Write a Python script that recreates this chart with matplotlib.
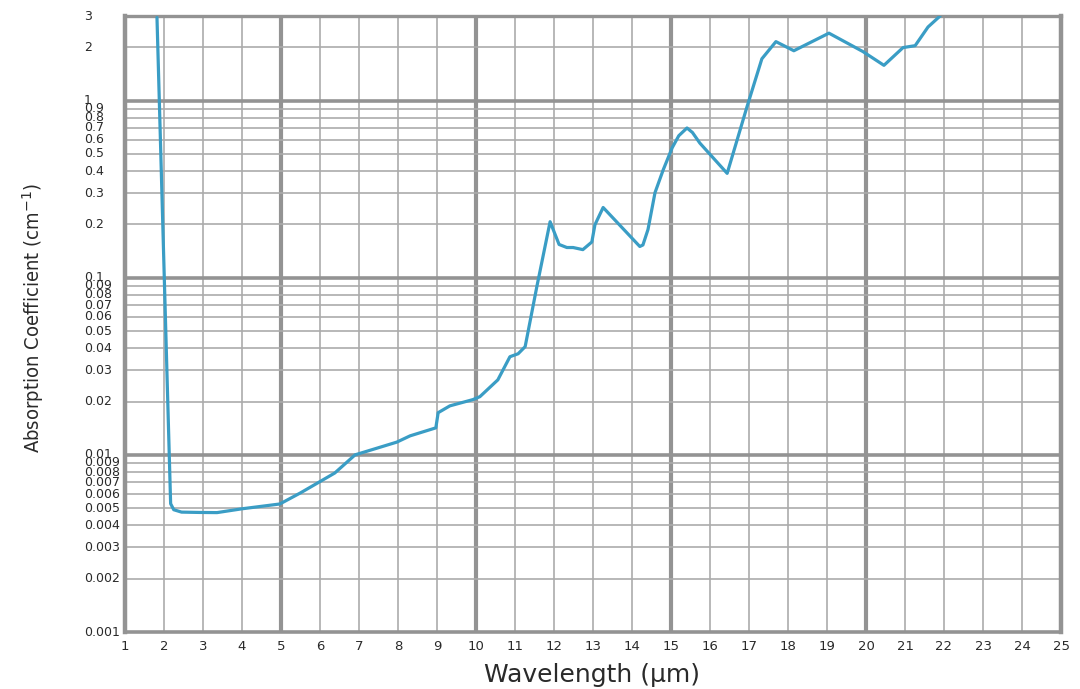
import matplotlib
matplotlib.use("Agg")
import matplotlib.pyplot as plt
from matplotlib import transforms

# Absorption spectrum (wavelength in micrometres, coefficient in cm^-1)
wavelength = [1.82, 2.17, 2.25, 2.45, 2.9, 3.36, 4.0, 4.97, 5.5, 6.38, 6.9,
              7.97, 8.31, 8.97, 9.03, 9.33, 9.92, 10.1, 10.56, 10.87, 11.08,
              11.26, 11.33, 11.56, 11.9, 12.13, 12.33, 12.49, 12.74, 12.97,
              13.05, 13.26, 14.2, 14.28, 14.41, 14.59, 14.8, 15.03, 15.2,
              15.41, 15.55, 15.74, 16.44, 16.95, 17.33, 17.69, 18.15, 19.05,
              19.92, 20.46, 20.95, 21.26, 21.59, 21.9]
absorption = [2.94, 0.0053, 0.0049, 0.00475, 0.00473, 0.00472, 0.00496,
              0.00528, 0.0061, 0.0079, 0.0100, 0.0118, 0.0128, 0.0142, 0.0173,
              0.0189, 0.0205, 0.0213, 0.0265, 0.0358, 0.0372, 0.0408, 0.0489,
              0.089, 0.207, 0.154, 0.148, 0.148, 0.144, 0.159, 0.199, 0.249,
              0.150, 0.153, 0.187, 0.302, 0.406, 0.541, 0.633, 0.70, 0.66,
              0.575, 0.388, 0.924, 1.72, 2.15, 1.91, 2.40, 1.89, 1.58, 1.99,
              2.04, 2.60, 3.0]

x_ticks = list(range(1, 26))
x_major = [5, 10, 15, 20]
y_labels = ["0.001", "0.002", "0.003", "0.004", "0.005", "0.006", "0.007",
            "0.008", "0.009", "0.01", "0.02", "0.03", "0.04", "0.05", "0.06",
            "0.07", "0.08", "0.09", "0.1", "0.2", "0.3", "0.4", "0.5", "0.6",
            "0.7", "0.8", "0.9", "1", "2", "3"]
y_major = [0.01, 0.1, 1]

THIN = "#ababab"
THICK = "#939393"
LINE = "#3a9dc5"
TEXT = "#2a2a2a"

fig = plt.figure(figsize=(10.8, 6.89), dpi=100)
ax = fig.add_axes([125 / 1080, 1 - 632 / 689, (1061 - 125) / 1080, (632 - 16) / 689])
ax.set_yscale("log")
ax.set_xlim(1, 25)
ax.set_ylim(0.001, 3)

# grid: thin lines at every unit / minor decade step, heavy lines at major ones
for xv in x_ticks[1:-1]:
    if xv in x_major:
        ax.axvline(xv, color=THICK, lw=3.0, zorder=1)
    else:
        ax.axvline(xv, color=THIN, lw=1.2, zorder=1)
for lab in y_labels[1:-1]:
    yv = float(lab)
    if yv in y_major:
        ax.axhline(yv, color=THICK, lw=2.6, zorder=1)
    else:
        ax.axhline(yv, color=THIN, lw=1.2, zorder=1)

for side, w in (("left", 3.2), ("right", 3.2), ("bottom", 2.6), ("top", 2.4)):
    ax.spines[side].set_color(THICK)
    ax.spines[side].set_linewidth(w)

ax.plot(wavelength, absorption, color=LINE, lw=2.3, zorder=3,
        solid_joinstyle="round", solid_capstyle="round")

ax.set_xticks(x_ticks)
ax.set_xticklabels([str(v) for v in x_ticks], fontsize=9.5, color=TEXT,
                   family="DejaVu Sans")
ax.tick_params(axis="x", length=0, pad=6)
ax.set_yticks([])
ax.set_yticks([], minor=True)

# y-axis values, left aligned in a column beside the frame
trans = transforms.blended_transform_factory(fig.transFigure, ax.transData)
for lab in y_labels:
    ax.text(84 / 1080, float(lab), lab, transform=trans, ha="left",
            va="center", fontsize=9, color=TEXT, family="DejaVu Sans",
            clip_on=False)

fig.text(592 / 1080, 1 - 675 / 689, "Wavelength (μm)", ha="center",
         va="center", fontsize=18, color=TEXT, family="DejaVu Sans")
fig.text(33 / 1080, 1 - 318 / 689, "Absorption Coefficient (cm$^{-1}$)",
         rotation=90, ha="center", va="center", fontsize=14.5, color=TEXT,
         family="DejaVu Sans", fontstretch="condensed")

fig.savefig("out.png", dpi=100)
